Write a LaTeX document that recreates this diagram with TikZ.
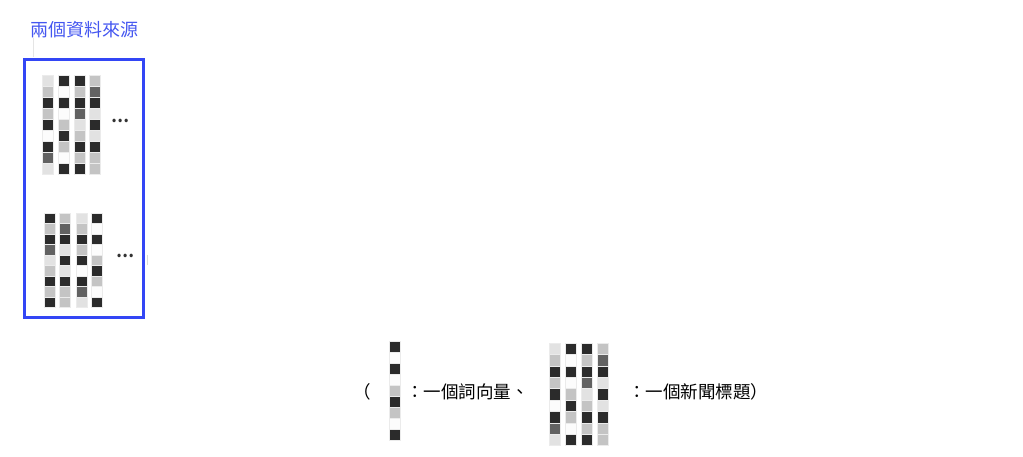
\documentclass[tikz,border=0pt]{standalone}
\usepackage{fontspec}
\setmainfont{Noto Sans CJK TC}
\usepackage{tikz}
\usetikzlibrary{positioning}
\definecolor{srcblue}{HTML}{3346F5}
\definecolor{titleblue}{HTML}{4456F0}
\definecolor{cD}{HTML}{2B2B2B}
\definecolor{cM}{HTML}{626262}
\definecolor{cL}{HTML}{C4C4C4}
\definecolor{cV}{HTML}{E2E2E2}
\definecolor{cW}{HTML}{FCFCFC}
% shade patterns of one column (top to bottom)
\def\colA{cV,cL,cD,cL,cD,cW,cD,cM,cV}
\def\colB{cD,cW,cD,cW,cL,cD,cL,cW,cD}
\def\colC{cD,cL,cD,cM,cV,cL,cD,cL,cD}
\def\colD{cL,cM,cD,cV,cD,cV,cD,cL,cL}
% \wordvec{x}{y top}{cell width}{cell height}{pattern}
\newcommand{\wordvec}[5]{%
  \foreach \s [count=\k from 0] in #5
    \filldraw[cell, fill=\s] (#1,#2+\k*#4) rectangle ++(#3,#4);
}

\begin{document}
\begin{tikzpicture}[x=1pt, y=-1pt,
  cell/.style={draw=black!8, line width=0.4pt},
  label/.style={font=\fontsize{17.5}{20}\selectfont, inner sep=0pt, anchor=west},
  dots/.style={font=\fontsize{16}{18}\selectfont\bfseries, inner sep=0pt, text=black!80}]
  \useasboundingbox (0,0) rectangle (1023,456);
  % Title and source box
  \node[font=\fontsize{18}{20}\selectfont, text=titleblue, inner sep=0pt] (title) at (84,30) {兩個資料來源};
  \draw[black!10, line width=0.5pt] (33,38) -- (33,57);
  \draw[srcblue, line width=3pt] (24,59) rectangle (143,317);
  % First source
  \wordvec{42}{75}{11}{11}{\colA}
  \wordvec{58}{75}{11}{11}{\colB}
  \wordvec{74}{75}{11}{11}{\colC}
  \wordvec{89}{75}{11}{11}{\colD}
  \node[dots] (dotsA) at (120,121) {…};
  % Second source
  \wordvec{44}{213}{11}{10.5}{\colC}
  \wordvec{59}{213}{11}{10.5}{\colD}
  \wordvec{76}{213}{11}{10.5}{\colA}
  \wordvec{91}{213}{11}{10.5}{\colB}
  \node[dots] (dotsB) at (125,256) {…};
  \draw[black!15, line width=0.6pt] (147,255) -- (147,265);
  % Legend
  \node[label] (open) at (353,392) {（};
  \wordvec{389}{341}{11}{11}{\colB}
  \node[label] (wordlbl) at (406,392) {：一個詞向量、};
  \wordvec{549}{343}{11.5}{11.4}{\colA}
  \wordvec{565}{343}{11.5}{11.4}{\colB}
  \wordvec{581}{343}{11.5}{11.4}{\colC}
  \wordvec{597}{343}{11.5}{11.4}{\colD}
  \node[label] (titlelbl) at (628,392) {：一個新聞標題）};
\end{tikzpicture}
\end{document}
